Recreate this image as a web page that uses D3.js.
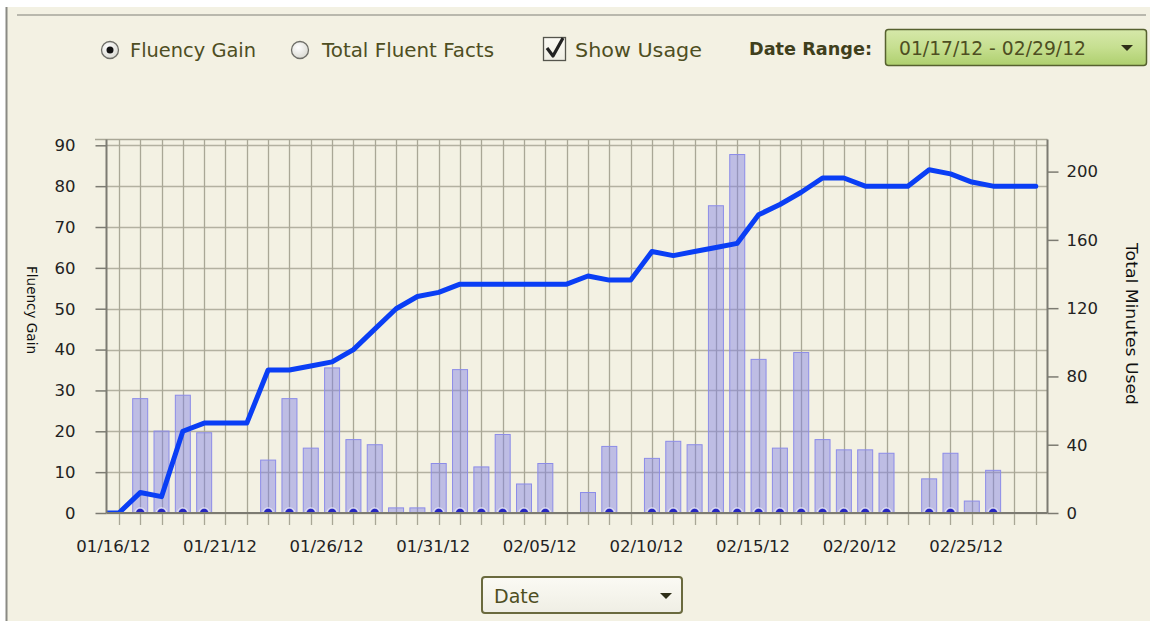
<!DOCTYPE html>
<html>
<head>
<meta charset="utf-8">
<script src="https://cdn.jsdelivr.net/npm/d3@7"></script>
<style>
  html, body { margin: 0; padding: 0; background: #ffffff; }
  svg { display: block; }
  text { font-family: "DejaVu Sans", Verdana, sans-serif; }
</style>
</head>
<body>
<svg id="chart" width="1150" height="621"></svg>
<script>
// ---------------- data ----------------
const dates = ["01/15/12","01/16/12","01/17/12","01/18/12","01/19/12","01/20/12","01/21/12","01/22/12","01/23/12","01/24/12",
  "01/25/12","01/26/12","01/27/12","01/28/12","01/29/12","01/30/12","01/31/12","02/01/12","02/02/12","02/03/12",
  "02/04/12","02/05/12","02/06/12","02/07/12","02/08/12","02/09/12","02/10/12","02/11/12","02/12/12","02/13/12",
  "02/14/12","02/15/12","02/16/12","02/17/12","02/18/12","02/19/12","02/20/12","02/21/12","02/22/12","02/23/12",
  "02/24/12","02/25/12","02/26/12","02/27/12","02/28/12"];
const fluencyGain = [0,0,5,4,20,22,22,22,35,35,
  36,37,40,45,50,53,54,56,56,56,
  56,56,56,58,57,57,64,63,64,65,
  66,73,75.5,78.5,82,82,80,80,80,84,
  83,81,80,80,80];
const minutesUsed = [0,0,67,48,69,47,0,0,31,67,
  38,85,43,40,3,3,29,84,27,46,
  17,29,0,12,39,0,32,42,40,180,
  210,90,38,94,43,37,37,35,0,20,
  35,7,25,0,0];
const assessed = [0,0,1,1,1,1,0,0,1,1,
  1,1,1,1,0,0,1,1,1,1,
  1,1,0,0,1,0,1,1,1,1,
  1,1,1,1,1,1,1,1,0,1,
  1,0,1,0,0];
const leftTicks = [0,10,20,30,40,50,60,70,80,90];
const rightTicks = [0,40,80,120,160,200];
const dateLabels = ["01/16/12","01/21/12","01/26/12","01/31/12","02/05/12","02/10/12","02/15/12","02/20/12","02/25/12"];
const leftTitle = "Fluency Gain";
const rightTitle = "Total Minutes Used";

// ---------------- layout ----------------
const svg = d3.select("#chart");
const W = 1150, H = 621;
const plot = { left: 106.5, right: 1047.5, top: 139.5, bottom: 513 };
const txt = "#4e4e22";

// panel
svg.append("rect").attr("x", 6).attr("y", 7).attr("width", W - 6).attr("height", H - 7).attr("fill", "#f3f1e3");
svg.append("line").attr("x1", 6.5).attr("x2", 6.5).attr("y1", 7).attr("y2", H).attr("stroke", "#8a8a84").attr("stroke-width", 2);
svg.append("line").attr("x1", 17).attr("x2", 1146).attr("y1", 15).attr("y2", 15).attr("stroke", "#b9b8ad").attr("stroke-width", 2);

// ---------------- scales ----------------
const x = d3.scaleLinear().domain([0.42, 44.55]).range([plot.left, plot.right]);
const yL = d3.scaleLinear().domain([0, 90]).range([513, 145.3]);
const yR = d3.scaleLinear().domain([0, 200]).range([513, 171.6]);
const idx = dates.map((d, i) => i);
const dayIdx = idx.filter(i => x(i) >= plot.left && x(i) <= plot.right);

const grid = svg.append("g");
grid.selectAll("line.h").data(leftTicks).join("line")
  .attr("x1", plot.left).attr("x2", plot.right)
  .attr("y1", d => Math.round(yL(d)) + 0.5).attr("y2", d => Math.round(yL(d)) + 0.5)
  .attr("stroke", "#b3b1a1").attr("stroke-width", 1.3);
grid.append("line").attr("x1", 95).attr("x2", plot.right).attr("y1", plot.top).attr("y2", plot.top)
  .attr("stroke", "#a9a796").attr("stroke-width", 1.3);
grid.selectAll("line.v").data(dayIdx).join("line")
  .attr("x1", d => Math.round(x(d)) + 0.5).attr("x2", d => Math.round(x(d)) + 0.5)
  .attr("y1", plot.top).attr("y2", plot.bottom + 12)
  .attr("stroke", "#a9a796").attr("stroke-width", 1.3);

// clip
svg.append("clipPath").attr("id", "clip").append("rect")
  .attr("x", plot.left).attr("y", plot.top - 5).attr("width", plot.right - plot.left).attr("height", plot.bottom - plot.top + 5);

const marks = svg.append("g").attr("clip-path", "url(#clip)");

// bars
const barW = 15;
marks.selectAll("rect.bar").data(idx.filter(i => minutesUsed[i] > 0)).join("rect")
  .attr("x", i => x(i) - barW / 2).attr("width", barW)
  .attr("y", i => yR(minutesUsed[i])).attr("height", i => yR(0) - yR(minutesUsed[i]))
  .attr("fill", "rgba(130,130,230,0.47)").attr("stroke", "#8c8ce8").attr("stroke-width", 1);

// assessment dots
marks.selectAll("circle.dot").data(idx.filter(i => assessed[i])).join("circle")
  .attr("cx", i => x(i)).attr("cy", yL(0))
  .attr("r", 5).attr("fill", "#2626c0").attr("stroke", "rgba(255,255,255,0.7)").attr("stroke-width", 1.5);

// line
const line = d3.line().x(i => x(i)).y(i => yL(fluencyGain[i]));
marks.append("path").datum(idx).attr("d", line)
  .attr("fill", "none").attr("stroke", "#0a3ef5").attr("stroke-width", 5)
  .attr("stroke-linejoin", "round").attr("stroke-linecap", "round");

// axes lines
const axisCol = "#7c7b72";
svg.append("line").attr("x1", plot.left).attr("x2", plot.left).attr("y1", plot.top).attr("y2", plot.bottom).attr("stroke", axisCol).attr("stroke-width", 2);
svg.append("line").attr("x1", plot.right).attr("x2", plot.right).attr("y1", plot.top).attr("y2", plot.bottom).attr("stroke", axisCol).attr("stroke-width", 2);
svg.append("line").attr("x1", plot.left).attr("x2", plot.right).attr("y1", plot.bottom).attr("y2", plot.bottom).attr("stroke", axisCol).attr("stroke-width", 2);

// left axis
const gl = svg.append("g").attr("transform", `translate(${plot.left},0)`)
  .call(d3.axisLeft(yL).tickValues(leftTicks).tickSize(11).tickPadding(20).tickFormat(d3.format("d")));
gl.select(".domain").remove();
gl.selectAll(".tick line").attr("stroke", axisCol).attr("stroke-width", 1.5);
gl.selectAll(".tick text").attr("font-size", 16.5).attr("fill", "#222").attr("font-family", "DejaVu Sans");

// right axis
const gr = svg.append("g").attr("transform", `translate(${plot.right},0)`)
  .call(d3.axisRight(yR).tickValues(rightTicks).tickSize(11).tickPadding(8).tickFormat(d3.format("d")));
gr.select(".domain").remove();
gr.selectAll(".tick line").attr("stroke", axisCol).attr("stroke-width", 1.5);
gr.selectAll(".tick text").attr("font-size", 16.5).attr("fill", "#222").attr("font-family", "DejaVu Sans");

// bottom labels
const labelIdx = dateLabels.map(l => dates.indexOf(l));
svg.append("g").selectAll("text").data(labelIdx).join("text")
  .attr("x", i => x(i) - 5.5).attr("y", 552)
  .attr("text-anchor", "middle").attr("font-size", 16.5).attr("fill", "#222")
  .text(i => dates[i]);

// axis titles
svg.append("text").attr("transform", "translate(27,310) rotate(90)")
  .attr("text-anchor", "middle").attr("font-size", 14).attr("fill", "#111")
  .attr("textLength", 88).attr("lengthAdjust", "spacingAndGlyphs").text(leftTitle);
svg.append("text").attr("transform", "translate(1126,324) rotate(90)")
  .attr("text-anchor", "middle").attr("font-size", 16.5).attr("fill", "#111")
  .attr("textLength", 162).attr("lengthAdjust", "spacingAndGlyphs").text(rightTitle);

// ---------------- controls ----------------
const defs = svg.append("defs");
const rg = defs.append("radialGradient").attr("id", "radioG").attr("cx", "40%").attr("cy", "35%").attr("r", "70%");
rg.append("stop").attr("offset", "0%").attr("stop-color", "#ffffff");
rg.append("stop").attr("offset", "100%").attr("stop-color", "#d8d8d0");
const gg = defs.append("linearGradient").attr("id", "greenG").attr("x1", 0).attr("x2", 0).attr("y1", 0).attr("y2", 1);
gg.append("stop").attr("offset", "0%").attr("stop-color", "#d6e8aa");
gg.append("stop").attr("offset", "50%").attr("stop-color", "#c6df90");
gg.append("stop").attr("offset", "100%").attr("stop-color", "#aecf6e");
const wg = defs.append("linearGradient").attr("id", "whiteG").attr("x1", 0).attr("x2", 0).attr("y1", 0).attr("y2", 1);
wg.append("stop").attr("offset", "0%").attr("stop-color", "#fbfaf4");
wg.append("stop").attr("offset", "100%").attr("stop-color", "#efeee4");

const ctl = svg.append("g");
ctl.append("circle").attr("cx", 110).attr("cy", 50).attr("r", 8.5).attr("fill", "url(#radioG)").attr("stroke", "#6e6e68").attr("stroke-width", 1.3);
ctl.append("circle").attr("cx", 110).attr("cy", 50).attr("r", 3.5).attr("fill", "#111");
ctl.append("text").attr("x", 130).attr("y", 57).attr("font-size", 19).attr("fill", txt)
  .attr("textLength", 126).attr("lengthAdjust", "spacingAndGlyphs").text("Fluency Gain");
ctl.append("circle").attr("cx", 300).attr("cy", 50).attr("r", 8.5).attr("fill", "url(#radioG)").attr("stroke", "#6e6e68").attr("stroke-width", 1.3);
ctl.append("text").attr("x", 322).attr("y", 57).attr("font-size", 19).attr("fill", txt)
  .attr("textLength", 172).attr("lengthAdjust", "spacingAndGlyphs").text("Total Fluent Facts");
ctl.append("rect").attr("x", 543.5).attr("y", 37.5).attr("width", 22).attr("height", 23).attr("fill", "url(#whiteG)").attr("stroke", "#55554d").attr("stroke-width", 1.3);
ctl.append("path").attr("d", "M547,48 L553,56 L563,38").attr("fill", "none").attr("stroke", "#222").attr("stroke-width", 3.2)
  .attr("stroke-linejoin", "round");
ctl.append("text").attr("x", 575).attr("y", 57).attr("font-size", 19).attr("fill", txt)
  .attr("textLength", 127).attr("lengthAdjust", "spacingAndGlyphs").text("Show Usage");
ctl.append("text").attr("x", 749).attr("y", 55).attr("font-size", 18).attr("font-weight", "bold").attr("fill", "#3f3f1c")
  .attr("textLength", 123).attr("lengthAdjust", "spacingAndGlyphs").text("Date Range:");
ctl.append("rect").attr("x", 885.5).attr("y", 29.5).attr("width", 261).attr("height", 36).attr("rx", 3)
  .attr("fill", "url(#greenG)").attr("stroke", "#56612f").attr("stroke-width", 1.5);
ctl.append("text").attr("x", 899).attr("y", 55).attr("font-size", 19).attr("fill", txt)
  .attr("textLength", 187).attr("lengthAdjust", "spacingAndGlyphs").text("01/17/12 - 02/29/12");
ctl.append("path").attr("d", "M1121,45 L1133,45 L1127,51 Z").attr("fill", "#2e2e18");

ctl.append("rect").attr("x", 482).attr("y", 577).attr("width", 200).attr("height", 36).attr("rx", 3)
  .attr("fill", "url(#whiteG)").attr("stroke", "#6a6a3e").attr("stroke-width", 2);
ctl.append("text").attr("x", 494).attr("y", 603).attr("font-size", 19).attr("fill", txt).text("Date");
ctl.append("path").attr("d", "M660,593 L672,593 L666,599 Z").attr("fill", "#2e2e18");
</script>
</body>
</html>
